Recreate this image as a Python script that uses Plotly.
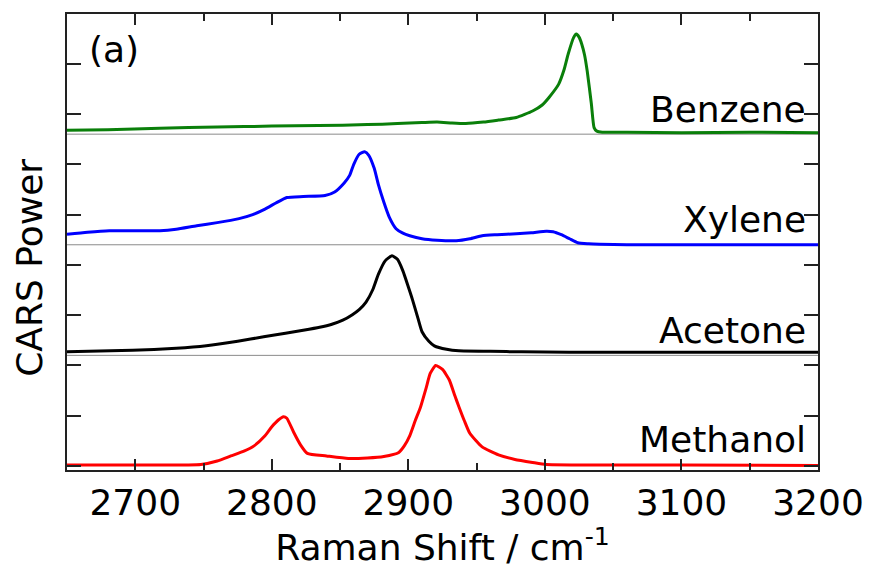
import plotly.graph_objects as go

# ---------------- data ----------------
names = ["Benzene", "Xylene", "Acetone", "Methanol"]
colors = ["#0a7f0a", "#0000ff", "#000000", "#ff0000"]
offsets = [6.63, 4.40, 2.26, 0.0]
separators = [6.6, 4.4, 2.2]

benzene_x = [2650, 2680, 2718, 2760, 2800, 2834, 2870, 2892, 2910, 2921, 2932, 2942, 2955, 2966,
             2979, 2991, 2998, 3003, 3010, 3014, 3017, 3021, 3023, 3025, 3027, 3029, 3031, 3034,
             3036, 3038, 3042, 3060, 3100, 3150, 3200]
benzene_y = [0.05, 0.06, 0.09, 0.11, 0.13, 0.14, 0.16, 0.18, 0.20, 0.21, 0.19, 0.18, 0.21, 0.25,
             0.30, 0.43, 0.55, 0.70, 0.96, 1.25, 1.56, 1.89, 1.96, 1.90, 1.76, 1.55, 1.22, 0.58,
             0.10, 0.03, 0.01, 0.01, 0.00, 0.01, 0.00]

xylene_x = [2650, 2665, 2681, 2700, 2718, 2730, 2745, 2760, 2776, 2786, 2795, 2803, 2811, 2823,
            2839, 2846, 2853, 2857, 2860, 2864, 2868, 2871, 2875, 2878, 2882, 2886, 2891, 2896,
            2901, 2910, 2921, 2935, 2945, 2954, 2965, 2979, 2990, 3001, 3006, 3012, 3018, 3024,
            3032, 3040, 3060, 3100, 3150, 3200]
xylene_y = [0.21, 0.25, 0.28, 0.28, 0.28, 0.31, 0.38, 0.44, 0.52, 0.60, 0.71, 0.83, 0.94, 0.96,
            0.98, 1.05, 1.23, 1.38, 1.60, 1.80, 1.85, 1.78, 1.52, 1.20, 0.85, 0.55, 0.32, 0.23,
            0.18, 0.12, 0.09, 0.08, 0.12, 0.18, 0.20, 0.22, 0.24, 0.27, 0.26, 0.20, 0.12, 0.04,
            0.02, 0.01, 0.00, 0.00, 0.00, 0.00]

acetone_x = [2650, 2698, 2730, 2752, 2775, 2794, 2810, 2823, 2835, 2844, 2852, 2859, 2864, 2869,
             2874, 2878, 2883, 2888, 2892, 2896, 2900, 2903, 2907, 2910, 2915, 2919, 2928, 2937,
             2960, 2983, 3050, 3200]
acetone_y = [0.01, 0.04, 0.08, 0.13, 0.22, 0.31, 0.38, 0.44, 0.50, 0.56, 0.64, 0.75, 0.85, 1.00,
             1.25, 1.55, 1.82, 1.92, 1.85, 1.62, 1.30, 1.05, 0.68, 0.41, 0.22, 0.13, 0.06, 0.03,
             0.02, 0.01, 0.00, 0.00]

methanol_x = [2650, 2700, 2748, 2760, 2770, 2780, 2787, 2795, 2800, 2805, 2808.5, 2811, 2816,
              2821, 2826, 2840, 2856, 2870, 2882, 2893, 2897, 2901, 2905, 2909, 2913, 2916, 2920,
              2925, 2930, 2934, 2937, 2941, 2945, 2954, 2966, 2978, 2991, 3001, 3050, 3100, 3200]
methanol_y = [0.02, 0.02, 0.03, 0.10, 0.20, 0.30, 0.40, 0.60, 0.78, 0.92, 0.98, 0.95, 0.67,
              0.42, 0.25, 0.20, 0.15, 0.16, 0.19, 0.27, 0.40, 0.60, 0.90, 1.18, 1.55, 1.84, 2.00,
              1.92, 1.71, 1.40, 1.18, 0.90, 0.65, 0.38, 0.22, 0.13, 0.07, 0.03, 0.02, 0.02, 0.01]

x_tickvals = [2700, 2800, 2900, 3000, 3100, 3200]
x_ticktext = ["2700", "2800", "2900", "3000", "3100", "3200"]
y_tickvals = [0, 1, 2, 3, 4, 5, 6, 7, 8]
label_y = [7.10, 4.91, 2.70, 0.53]
panel_label = "(a)"
y_title = "CARS Power"
x_title = "Raman Shift / cm<sup>-1</sup>"

xs = [benzene_x, xylene_x, acetone_x, methanol_x]
ys = [benzene_y, xylene_y, acetone_y, methanol_y]

FONT = "DejaVu Sans"

fig = go.Figure()
for name, c, off, x, y in zip(names, colors, offsets, xs, ys):
    fig.add_trace(go.Scatter(
        x=x, y=[v + off for v in y], mode="lines", name=name,
        line=dict(color=c, width=3, shape="spline", smoothing=0.5),
        showlegend=False, hoverinfo="skip"))

for s in separators:
    fig.add_shape(type="line", xref="paper", x0=0, x1=1, yref="y", y0=s, y1=s,
                  line=dict(color="#8a8a8a", width=1), layer="below")

for name, ly in zip(names, label_y):
    fig.add_annotation(x=3193, y=ly, xref="x", yref="y", text=name, showarrow=False,
                       xanchor="right", yanchor="middle",
                       font=dict(family=FONT, size=36, color="black"))

fig.add_annotation(x=2665, y=8.29, xref="x", yref="y", text=panel_label, showarrow=False,
                   xanchor="left", yanchor="middle",
                   font=dict(family=FONT, size=36, color="black"))

# y-axis title, placed slightly below the plot middle as in the reference
fig.add_annotation(x=-0.05, y=3.95, xref="paper", yref="y", text=y_title, showarrow=False,
                   textangle=-90, xanchor="center", yanchor="middle",
                   font=dict(family=FONT, size=36, color="black"))

fig.update_layout(
    width=876, height=568,
    margin=dict(l=67, r=52, t=13, b=98),
    paper_bgcolor="white", plot_bgcolor="white",
    font=dict(family=FONT, color="black"),
    xaxis=dict(
        range=[2650, 3200], tickvals=x_tickvals, ticktext=x_ticktext,
        ticks="inside", ticklen=11, tickwidth=1.5, tickcolor="#222",
        minor=dict(dtick=50, tick0=2650, ticks="inside", ticklen=7, tickwidth=1.5, tickcolor="#222"),
        showline=True, linecolor="#222", linewidth=2, mirror="ticks",
        showgrid=False, zeroline=False,
        tickfont=dict(family=FONT, size=36, color="black"),
        title=dict(text=x_title, font=dict(family=FONT, size=36, color="black"), standoff=4),
    ),
    yaxis=dict(
        range=[-0.08, 8.99], tickvals=y_tickvals, showticklabels=False,
        ticks="inside", ticklen=14, tickwidth=1.5, tickcolor="#222",
        showline=True, linecolor="#222", linewidth=2, mirror="ticks",
        showgrid=False, zeroline=False,
    ),
)

fig.write_html("out.html")
